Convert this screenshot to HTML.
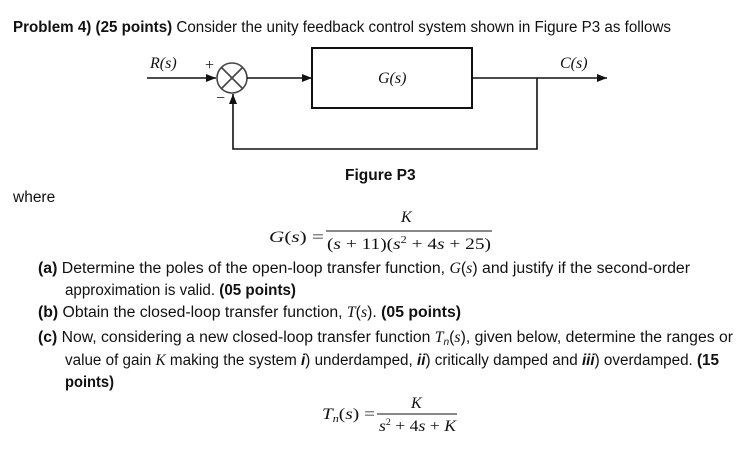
<!DOCTYPE html>
<html><head><meta charset="utf-8"><style>
html,body{margin:0;padding:0;background:#fff;}
svg{display:block;}
.t{font-family:"Liberation Sans",sans-serif;font-size:15.5px;fill:#111;}
.b{font-weight:bold;}
.m{font-family:"Liberation Serif",serif;font-size:16px;fill:#111;}
.i{font-style:italic;}
</style></head><body>
<svg width="742" height="475" viewBox="0 0 742 475" xmlns="http://www.w3.org/2000/svg">
<defs><marker id="a" markerWidth="10" markerHeight="8" refX="10" refY="4" orient="auto" markerUnits="userSpaceOnUse"><path d="M0,0 L10,4 L0,8 z" fill="#111"/></marker></defs>
<text class="t" x="13" y="32" textLength="658" lengthAdjust="spacingAndGlyphs"><tspan class="b">Problem 4) (25 points)</tspan> Consider the unity feedback control system shown in Figure P3 as follows</text>
<g stroke="#111" stroke-width="1.6" fill="none">
<line x1="147" y1="78" x2="216" y2="78" marker-end="url(#a)"/>
<circle cx="232" cy="78" r="15" stroke="#444"/>
<line x1="221" y1="67" x2="243" y2="89" stroke="#444"/>
<line x1="243" y1="67" x2="221" y2="89" stroke="#444"/>
<line x1="247" y1="78" x2="312" y2="78" marker-end="url(#a)"/>
<rect x="312" y="48" width="160" height="60" stroke-width="2"/>
<line x1="472" y1="78" x2="607" y2="78" marker-end="url(#a)"/>
<polyline points="537,78 537,149 233,149 233,94" marker-end="url(#a)"/>
</g>
<text class="m i" x="150" y="68">R(s)</text>
<text class="m" x="205" y="70" font-size="12">+</text>
<text class="m" x="216" y="103" font-size="13">−</text>
<text class="m i" x="378" y="83">G(s)</text>
<text class="m i" x="560" y="68">C(s)</text>
<text class="t b" x="345" y="180" font-size="14.5">Figure P3</text>
<text class="t" x="13" y="202">where</text>
<text class="m i" x="401" y="222">K</text>
<text class="m" x="269" y="242" textLength="55" lengthAdjust="spacingAndGlyphs"><tspan class="i">G</tspan>(<tspan class="i">s</tspan>) =</text>
<line x1="326" y1="231" x2="492" y2="231" stroke="#111" stroke-width="1"/>
<text class="m" x="327" y="249" textLength="164" lengthAdjust="spacingAndGlyphs">(<tspan class="i">s</tspan> + 11)(<tspan class="i">s</tspan><tspan font-size="10" dy="-6">2</tspan><tspan dy="6"> + 4</tspan><tspan class="i">s</tspan> + 25)</text>
<text class="t" x="38" y="273" textLength="652" lengthAdjust="spacingAndGlyphs"><tspan class="b">(a)</tspan> Determine the poles of the open-loop transfer function, <tspan class="i" font-family="Liberation Serif">G</tspan>(<tspan class="i" font-family="Liberation Serif">s</tspan>) and justify if the second-order</text>
<text class="t" x="65" y="295" textLength="231" lengthAdjust="spacingAndGlyphs">approximation is valid. <tspan class="b">(05 points)</tspan></text>
<text class="t" x="38" y="317" textLength="423" lengthAdjust="spacingAndGlyphs"><tspan class="b">(b)</tspan> Obtain the closed-loop transfer function, <tspan class="i" font-family="Liberation Serif">T</tspan>(<tspan class="i" font-family="Liberation Serif">s</tspan>). <tspan class="b">(05 points)</tspan></text>
<text class="t" x="38" y="342" textLength="695" lengthAdjust="spacingAndGlyphs"><tspan class="b">(c)</tspan> Now, considering a new closed-loop transfer function <tspan class="i" font-family="Liberation Serif">T</tspan><tspan font-size="10" dy="3" class="i">n</tspan><tspan dy="-3">(</tspan><tspan class="i" font-family="Liberation Serif">s</tspan>), given below, determine the ranges or</text>
<text class="t" x="65" y="365" textLength="654" lengthAdjust="spacingAndGlyphs">value of gain <tspan class="i" font-family="Liberation Serif">K</tspan> making the system <tspan class="b i">i</tspan>) underdamped, <tspan class="b i">ii</tspan>) critically damped and <tspan class="b i">iii</tspan>) overdamped. <tspan class="b">(15</tspan></text>
<text class="t b" x="65" y="387" textLength="49" lengthAdjust="spacingAndGlyphs">points)</text>
<text class="m i" x="411" y="408" font-size="14">K</text>
<text class="m" x="322" y="419" font-size="15" textLength="53" lengthAdjust="spacingAndGlyphs"><tspan class="i">T</tspan><tspan class="i" font-size="10" dy="3">n</tspan><tspan dy="-3">(</tspan><tspan class="i">s</tspan>) =</text>
<line x1="377" y1="414" x2="457" y2="414" stroke="#111" stroke-width="1"/>
<text class="m" x="379" y="431" font-size="15" textLength="77" lengthAdjust="spacingAndGlyphs"><tspan class="i">s</tspan><tspan font-size="9" dy="-6">2</tspan><tspan dy="6"> + 4</tspan><tspan class="i">s</tspan> + <tspan class="i">K</tspan></text>
</svg>
</body></html>
